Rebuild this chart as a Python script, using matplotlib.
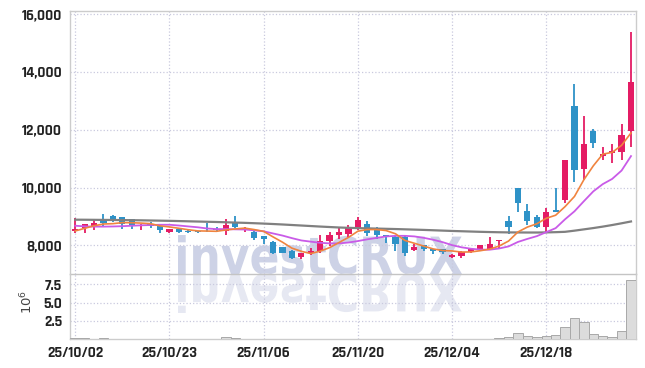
import matplotlib
matplotlib.use('Agg')
import matplotlib.pyplot as plt
from matplotlib.ticker import FuncFormatter
from matplotlib.textpath import TextPath
from matplotlib.patches import PathPatch
from matplotlib.font_manager import FontProperties
from matplotlib.transforms import Affine2D, IdentityTransform

# daily candles (KRW), oldest first
opens = [8490, 8600, 8680, 8890, 9030, 8990, 8910, 8660, 8750, 8680,
         8450, 8560, 8500, 8490, 8540, 8580, 8490, 8820, 8530, 8470,
         8330, 8120, 7950, 7800, 7600, 7730, 7800, 8150, 8360, 8390,
         8560, 8740, 8600, 8350, 8300, 8300, 7830, 8000, 7880, 7860,
         7600, 7650, 7770, 7850, 7860, 8150, 8830, 9990, 9200, 8990,
         8620, 9230, 9560, 12820, 10630, 11950, 11080, 11190, 11220, 11950]
highs = [8960, 8750, 8890, 9090, 9040, 9000, 8930, 8730, 8800, 8690,
         8570, 8600, 8520, 8500, 8780, 8640, 8910, 9030, 8620, 8550,
         8340, 8150, 7960, 7850, 7740, 7900, 8350, 8470, 8650, 8700,
         9000, 8850, 8620, 8360, 8330, 8330, 8060, 8010, 7890, 7870,
         7700, 7800, 7900, 8030, 8280, 8200, 9030, 10000, 9430, 9060,
         9300, 9970, 10960, 13600, 12460, 12040, 11420, 11520, 12190, 15400]
lows = [8440, 8420, 8530, 8680, 8800, 8580, 8580, 8530, 8600, 8440,
        8430, 8420, 8430, 8440, 8480, 8490, 8370, 8600, 8480, 8200,
        8050, 7700, 7720, 7530, 7530, 7680, 7720, 7980, 8230, 8300,
        8540, 8340, 8230, 8080, 7800, 7620, 7800, 7800, 7700, 7700,
        7560, 7580, 7720, 7800, 7830, 7870, 8400, 9170, 8700, 8590,
        8480, 9140, 9450, 10200, 10280, 11370, 10960, 10840, 10960, 11420]
closes = [8560, 8730, 8780, 8760, 8930, 8740, 8710, 8720, 8660, 8550,
          8560, 8470, 8470, 8460, 8520, 8520, 8700, 8650, 8600, 8270,
          8210, 7740, 7740, 7570, 7720, 7820, 8150, 8350, 8460, 8600,
          8890, 8440, 8350, 8290, 8040, 7740, 7950, 7860, 7800, 7770,
          7660, 7760, 7880, 8010, 8050, 8190, 8620, 9460, 8850, 8620,
          9140, 9150, 10950, 10610, 11520, 11540, 11170, 11250, 11830, 13670]
# volume in millions of shares
volumes = [0.15, 0.12, 0.10, 0.11, 0.09, 0.10, 0.08, 0.07, 0.06, 0.07,
           0.06, 0.05, 0.04, 0.04, 0.07, 0.05, 0.25, 0.12, 0.06, 0.08,
           0.07, 0.10, 0.07, 0.08, 0.06, 0.05, 0.09, 0.08, 0.07, 0.08,
           0.10, 0.08, 0.06, 0.05, 0.07, 0.09, 0.06, 0.05, 0.04, 0.04,
           0.05, 0.04, 0.05, 0.06, 0.08, 0.12, 0.32, 0.86, 0.41, 0.28,
           0.45, 0.55, 1.66, 2.95, 2.33, 0.68, 0.45, 0.32, 1.12, 8.07]

# moving averages
ma_short = [8500, 8590, 8680, 8740, 8752, 8788, 8784, 8772, 8752, 8676,
            8640, 8592, 8542, 8502, 8496, 8488, 8534, 8570, 8598, 8548,
            8486, 8294, 8112, 7906, 7796, 7718, 7800, 7922, 8100, 8276,
            8490, 8548, 8548, 8514, 8402, 8172, 8074, 7976, 7878, 7824,
            7808, 7770, 7774, 7816, 7872, 7978, 8150, 8466, 8634, 8748,
            8938, 9044, 9342, 9694, 10274, 10754, 11158, 11218, 11462, 11892]
ma_mid = [8680, 8660, 8650, 8650, 8655, 8665, 8680, 8695, 8705, 8714,
          8714, 8688, 8657, 8627, 8586, 8564, 8563, 8556, 8550, 8522,
          8487, 8414, 8341, 8252, 8172, 8130, 8090, 8070, 8070, 8100,
          8150, 8210, 8260, 8310, 8330, 8331, 8311, 8262, 8196, 8113,
          8010, 7935, 7885, 7855, 7852, 7893, 7965, 8120, 8225, 8320,
          8458, 8597, 8904, 9180, 9530, 9870, 10120, 10300, 10590, 11090]
ma_long = [8890, 8888, 8885, 8882, 8880, 8876, 8872, 8868, 8862, 8856,
           8850, 8842, 8834, 8826, 8818, 8810, 8800, 8790, 8780, 8768,
           8755, 8740, 8724, 8706, 8688, 8670, 8652, 8636, 8620, 8608,
           8598, 8590, 8582, 8574, 8566, 8556, 8546, 8536, 8524, 8512,
           8500, 8490, 8480, 8470, 8462, 8455, 8450, 8448, 8446, 8446,
           8450, 8458, 8470, 8510, 8555, 8600, 8650, 8705, 8765, 8828]

date_ticks = [0, 10, 20, 30, 40, 50]
date_labels = ['25/10/02', '25/10/23', '25/11/06', '25/11/20', '25/12/04', '25/12/18']
price_ticks = [8000, 10000, 12000, 14000, 16000]
vol_ticks = [2.5, 5.0, 7.5]

up_color = '#e41c64'
down_color = '#2e92c7'
grid_color = '#c9c9de'
spine_color = '#cccccc'
tick_font = FontProperties(family=['Rajdhani', 'DejaVu Sans'], weight='bold', size=11)

fig = plt.figure(figsize=(6.45, 3.68), dpi=100)
fig.patch.set_facecolor('white')
ax = fig.add_axes([0.1093, 0.2546, 0.8763, 0.7155])
axv = fig.add_axes([0.1093, 0.078, 0.8763, 0.1766], sharex=ax)
for a in (ax, axv):
    a.set_facecolor('none')

# watermark + its reflection, in pixel space
tp = TextPath((0, 0), 'investCRUX', prop=FontProperties(family='DejaVu Sans', weight='bold'), size=10)
bb = tp.get_extents()
sx = (462 - 178) / bb.width
sy = 39 / bb.y1
base = 368 - 274
wm = Affine2D().translate(-bb.x0, 0).scale(sx, sy).translate(178, base)
wr = Affine2D().translate(-bb.x0, 0).scale(sx, -sy).translate(178, base)
fig.add_artist(PathPatch(tp, transform=wm + IdentityTransform(), facecolor='#cdd2e6',
                         edgecolor='none', zorder=-1))
fig.add_artist(PathPatch(tp, transform=wr + IdentityTransform(), facecolor='#e6e8f2',
                         edgecolor='none', zorder=-1))

x = list(range(len(closes)))
colors = [up_color if c >= o else down_color for o, c in zip(opens, closes)]
bottoms = [min(o, c) for o, c in zip(opens, closes)]
heights = [max(abs(c - o), 12) for o, c in zip(opens, closes)]

ax.vlines(x, lows, highs, colors=colors, linewidth=1.3, zorder=3)
ax.bar(x, heights, bottom=bottoms, width=0.66, color=colors, zorder=4)

ax.plot(x, ma_long, color='#808080', linewidth=1.6, zorder=5)
ax.plot(x, ma_mid, color='#c95be8', linewidth=1.3, zorder=6)
ax.plot(x, ma_short, color='#f0843f', linewidth=1.2, zorder=7)

ax.set_xlim(-0.5, 59.5)
ax.set_ylim(7000, 16110)
ax.set_yticks(price_ticks)
ax.yaxis.set_major_formatter(FuncFormatter(lambda v, p: f'{v:,.0f}'))
ax.set_xticks(date_ticks)
ax.tick_params(axis='x', labelbottom=False, length=0)
ax.tick_params(axis='y', length=0, pad=6, colors='#222222')
for lab in ax.get_yticklabels():
    lab.set_fontproperties(tick_font)
ax.grid(True, color=grid_color, linestyle=':', linewidth=0.9, zorder=0)
ax.set_axisbelow(True)

axv.bar(x, volumes, width=1.0, color='#dcdcdc', edgecolor='#a8a8a8', linewidth=0.7, zorder=3)
axv.set_ylim(0, 8.85)
axv.set_yticks(vol_ticks)
axv.set_yticklabels([f'{v:.1f}' for v in vol_ticks])
axv.set_xticks(date_ticks)
axv.set_xticklabels(date_labels)
axv.tick_params(length=0, colors='#222222')
axv.tick_params(axis='y', pad=6)
axv.tick_params(axis='x', pad=5)
for lab in axv.get_yticklabels() + axv.get_xticklabels():
    lab.set_fontproperties(tick_font)
axv.grid(True, color=grid_color, linestyle=':', linewidth=0.9, zorder=0)
axv.set_axisbelow(True)
axv.set_ylabel(r'$10^{6}$', fontsize=9.5, color='#444444')
axv.yaxis.set_label_coords(-0.063, 0.57)

for a in (ax, axv):
    for s in a.spines.values():
        s.set_color(spine_color)
        s.set_linewidth(1.0)
ax.spines['bottom'].set_color('#c4c4c4')
axv.spines['top'].set_visible(False)

fig.savefig('out.png', dpi=100)
